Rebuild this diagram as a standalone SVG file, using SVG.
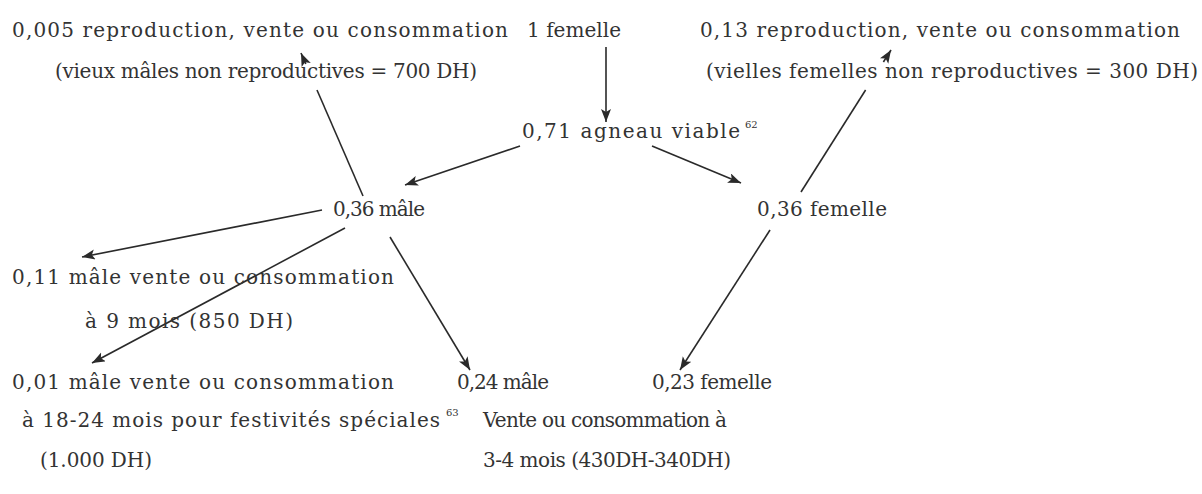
<svg xmlns="http://www.w3.org/2000/svg" width="1202" height="494" viewBox="0 0 1202 494">
<defs>
<marker id="ah" markerUnits="userSpaceOnUse" markerWidth="14" markerHeight="11" refX="13" refY="5" orient="auto">
<path d="M0,0 L13,5 L0,10 L3,5 z" fill="#2a2a2a"/>
</marker>
<style>
text{font-family:"DejaVu Serif","Liberation Serif",serif;font-size:20px;fill:#333333}
.sup{font-size:10px}
.c{fill:none;stroke:#2a2a2a;stroke-width:1.6}
.a{marker-end:url(#ah)}
</style>
</defs>
<rect width="1202" height="494" fill="#ffffff"/>
<g id="connectors">
<path class="c a" d="M606,47 L606,122"/>
<path class="c a" d="M520,146 L405,185"/>
<path class="c a" d="M652,146 L741,183"/>
<path class="c" d="M363,196 L317,90"/>
<path class="c a" d="M305.8,64 L301,53"/>
<path class="c" d="M801,192 L865.6,90"/>
<path class="c a" d="M883.4,62 L891,50"/>
<path class="c a" d="M322,210 L82,257"/>
<path class="c a" d="M345,228 L92,363"/>
<path class="c a" d="M390,237 L470,370"/>
<path class="c a" d="M770,230 L680,370"/>
</g>
<g id="n-old-males">
<text x="12" y="37" textLength="496" lengthAdjust="spacing">0,005 reproduction, vente ou consommation</text>
<text x="55" y="78" textLength="422" lengthAdjust="spacing">(vieux mâles non reproductives = 700 DH)</text>
</g>
<g id="n-femelle">
<text x="527" y="37" textLength="94" lengthAdjust="spacing">1 femelle</text>
</g>
<g id="n-old-females">
<text x="700" y="37" textLength="480" lengthAdjust="spacing">0,13 reproduction, vente ou consommation</text>
<text x="706" y="78" textLength="492" lengthAdjust="spacing">(vielles femelles non reproductives = 300 DH)</text>
</g>
<g id="n-agneau">
<text x="522" y="138" textLength="218" lengthAdjust="spacing">0,71 agneau viable</text>
<text class="sup" x="745" y="128">62</text>
</g>
<g id="n-male">
<text x="333" y="216" textLength="92" lengthAdjust="spacing">0,36 mâle</text>
</g>
<g id="n-female">
<text x="757" y="216" textLength="130" lengthAdjust="spacing">0,36 femelle</text>
</g>
<g id="n-male-9">
<text x="12" y="284" textLength="382" lengthAdjust="spacing">0,11 mâle vente ou consommation</text>
<text x="85" y="328" textLength="208" lengthAdjust="spacing">à 9 mois (850 DH)</text>
</g>
<g id="n-male-18">
<text x="12" y="389" textLength="382" lengthAdjust="spacing">0,01 mâle vente ou consommation</text>
<text x="22" y="427" textLength="418" lengthAdjust="spacing">à 18-24 mois pour festivités spéciales</text>
<text class="sup" x="446" y="416">63</text>
<text x="40" y="467" textLength="112" lengthAdjust="spacing">(1.000 DH)</text>
</g>
<g id="n-male-24">
<text x="457" y="389" textLength="92" lengthAdjust="spacing">0,24 mâle</text>
<text x="483" y="427" textLength="244" lengthAdjust="spacing">Vente ou consommation à</text>
<text x="483" y="467" textLength="248" lengthAdjust="spacing">3-4 mois (430DH-340DH)</text>
</g>
<g id="n-female-23">
<text x="652" y="389" textLength="120" lengthAdjust="spacing">0,23 femelle</text>
</g>
</svg>
